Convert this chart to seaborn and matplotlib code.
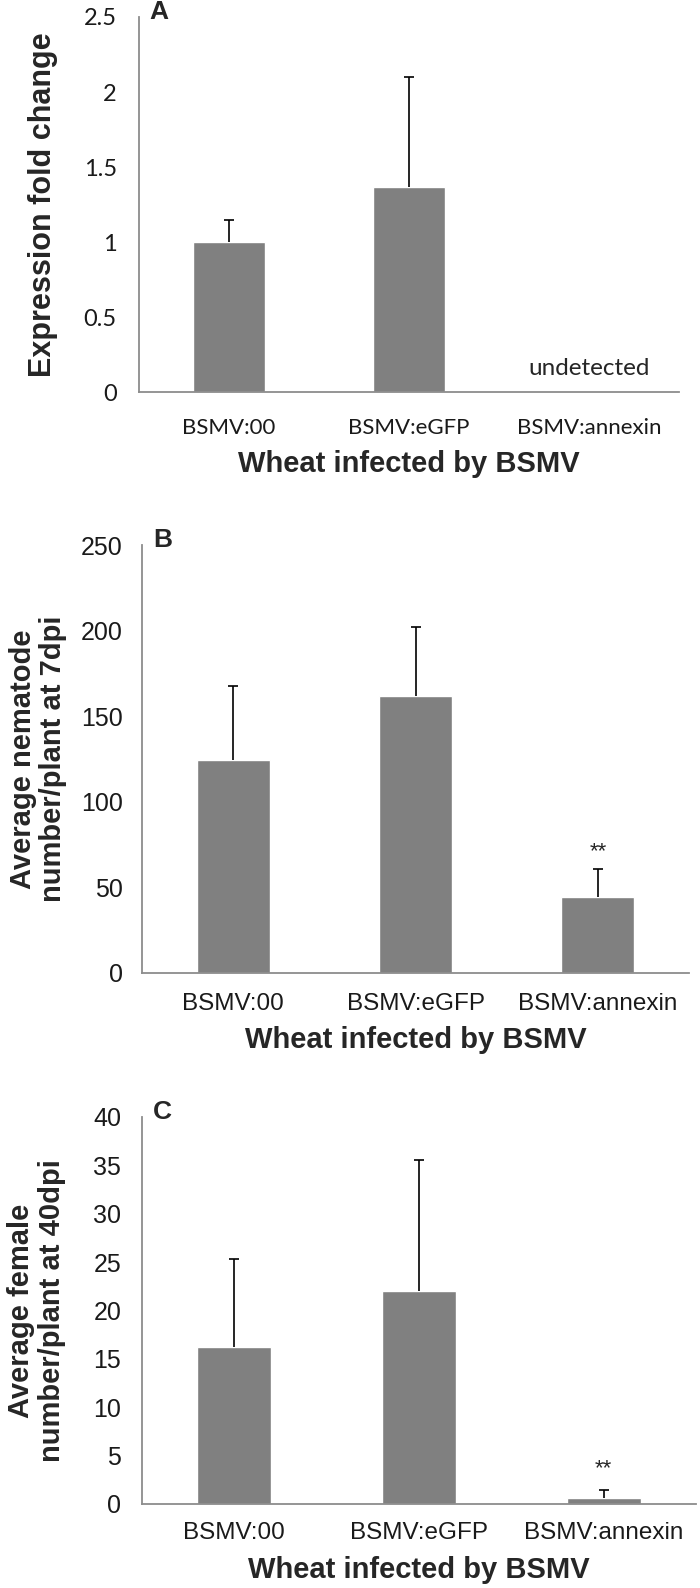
import numpy as np
import matplotlib
matplotlib.use("Agg")
import matplotlib.pyplot as plt
import seaborn as sns

# ==============================================================================
# 1. DATA
# ==============================================================================
groups = ['BSMV:00', 'BSMV:eGFP', 'BSMV:annexin']

# Panel A: expression fold change (annexin undetected)
expr_mean = [1.0, 1.37, 0.0]
expr_err = [0.15, 0.73, 0.0]

# Panel B: nematodes per plant at 7 dpi
nema_mean = [124.5, 162, 44.5]
nema_err = [43, 40, 16]

# Panel C: females per plant at 40 dpi
female_mean = [16.2, 22.0, 0.6]
female_err = [9.1, 13.6, 0.8]

sns.set_style('white')
plt.rcParams['font.family'] = ['Liberation Sans', 'DejaVu Sans']

BAR = '#808080'
AXIS = '#8c8c8c'

fig = plt.figure(figsize=(7.0, 15.88), dpi=100)

# ==============================================================================
# 2. PANEL HELPER
# ==============================================================================
def draw_panel(rect, means, errs, ymax, ystep, ylabel, letter, tickfont,
               xfs, yfs, xpad, ypad, labfs, label_x, labelpad, stars=None,
               show_err=(True, True, True)):
    ax = fig.add_axes(rect)
    sns.barplot(x=groups, y=means, color=BAR, width=0.4, errorbar=None,
                saturation=1, ax=ax)
    for i, (m, e) in enumerate(zip(means, errs)):
        if show_err[i]:
            cont = ax.errorbar(i, m, yerr=[[0], [e]], fmt='none',
                               ecolor='black', elinewidth=1.2, capsize=3.6,
                               capthick=1.2)
            # keep only the upper cap (one-sided error bar)
            for cap in cont[1]:
                if abs(cap.get_ydata()[0] - m) < 1e-9:
                    cap.set_visible(False)
    ax.set_xlim(-0.5, 2.5)
    ax.set_ylim(0, ymax)
    ticks = np.arange(0, ymax + ystep / 2, ystep)
    ax.set_yticks(ticks)
    ax.set_yticklabels([('%g' % t) for t in ticks], fontsize=yfs,
                       family=tickfont, color='#1a1a1a')
    ax.set_xticks([0, 1, 2])
    ax.set_xticklabels(groups, fontsize=xfs, family=tickfont, color='#1a1a1a')
    ax.set_xticks([-0.5, 0.5, 1.5, 2.5], minor=True)
    ax.tick_params(axis='x', which='major', length=0, pad=xpad)
    ax.tick_params(axis='x', which='minor', length=7, width=1.2,
                   color=AXIS, direction='out')
    ax.tick_params(axis='y', length=5, width=1.2, color=AXIS,
                   direction='out', pad=ypad)
    sns.despine(ax=ax)
    for s in ['left', 'bottom']:
        ax.spines[s].set_color(AXIS)
        ax.spines[s].set_linewidth(1.3)
    ax.set_ylabel(ylabel, fontsize=labfs, fontweight='bold', linespacing=1.1)
    ax.yaxis.set_label_coords(label_x, 0.5)
    ax.set_xlabel('Wheat infected by BSMV', fontsize=21, fontweight='bold',
                  labelpad=labelpad)
    ax.text(0.02, 1.012, letter, transform=ax.transAxes, fontsize=19,
            fontweight='bold', ha='left', va='center')
    if stars is not None:
        ax.text(2, stars, '**', ha='center', va='center', fontsize=16,
                family=tickfont)
    return ax

# ==============================================================================
# 3. DRAW THE THREE PANELS
# ==============================================================================
axA = draw_panel([0.1986, 0.7531, 0.7714, 0.2362], expr_mean, expr_err,
                 2.5, 0.5, 'Expression fold change', 'A', 'Lato',
                 16, 17, 18.5, 11, 22, -0.150, 9,
                 show_err=(True, True, False))
axA.text(2, 0.16, 'undetected', ha='center', va='center', fontsize=17.5,
         family='Lato')

axB = draw_panel([0.2029, 0.3873, 0.7814, 0.2695], nema_mean, nema_err,
                 250, 50, 'Average nematode\nnumber/plant at 7dpi', 'B',
                 'Liberation Sans', 17.5, 18, 14.5, 9, 21, -0.137, 7.5,
                 stars=71)

axC = draw_panel([0.2029, 0.0529, 0.7914, 0.2437], female_mean, female_err,
                 40, 5, 'Average female\nnumber/plant at 40dpi', 'C',
                 'Liberation Sans', 17.5, 18, 13, 10, 21, -0.138, 8.5,
                 stars=3.6)

fig.savefig('out.png', dpi=100)
